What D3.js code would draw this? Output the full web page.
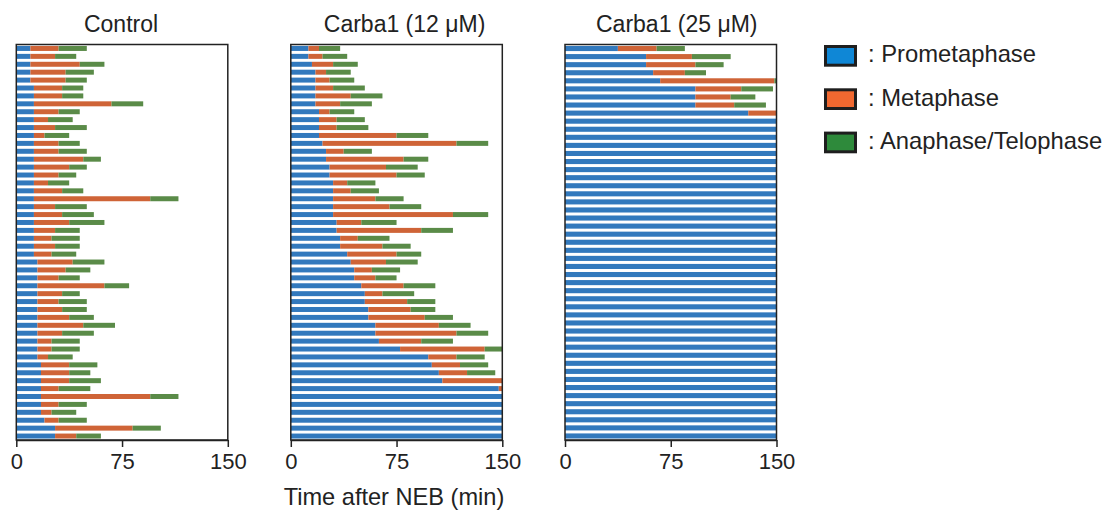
<!DOCTYPE html>
<html><head><meta charset="utf-8">
<script src="https://cdn.jsdelivr.net/npm/d3@7"></script>
<style>html,body{margin:0;padding:0;background:#fff;}svg{display:block;font-family:"Liberation Sans",Arial,sans-serif;}</style>
</head><body><svg id="c" width="1108" height="513"></svg>
<script>
// ---- data (minutes) ----
const panelTitles = ["Control", "Carba1 (12 μM)", "Carba1 (25 μM)"];
const phases = ["Prometaphase", "Metaphase", "Anaphase/Telophase"];
const xTicks = [0, 75, 150];
const xLabel = "Time after NEB (min)";

// Control: duration of each phase per cell
const controlPro = [10,10,10,10,10,12.5,12.5,12.5,12.5,12.5,12.5,12.5,12.5,12.5,12.5,12.5,12.5,12.5,12.5,12.5,12.5,12.5,12.5,12.5,12.5,12.5,12.5,15,15,15,15,15,15,15,15,15,15,15,15,15,17.5,17.5,17.5,17.5,17.5,17.5,17.5,20,27.5,27.5];
const controlMeta = [20,17.5,35,25,25,20,20,55,17.5,10,15,7.5,17.5,17.5,35,25,17.5,10,20,82.5,15,20,25,15,12.5,15,12.5,25,20,15,47.5,17.5,15,17.5,22.5,32.5,17.5,10,10,7.5,20,20,20,12.5,77.5,12.5,7.5,10,55,15];
const controlAna = [20,15,17.5,20,15,15,15,22.5,15,17.5,22.5,17.5,15,20,12.5,12.5,12.5,15,15,20,22.5,22.5,25,17.5,20,17.5,17.5,22.5,17.5,15,17.5,12.5,20,17.5,17.5,22.5,22.5,20,20,17.5,20,15,22.5,22.5,20,20,17.5,20,20,17.5];

// Carba1 12 µM
const c12Pro = [12.5,12.5,15,17.5,17.5,17.5,17.5,17.5,20,20,20,20,22.5,25,25,27.5,27.5,30,30,30,30,30,32.5,32.5,35,35,40,42.5,45,45,50,52.5,52.5,55,55,60,60,62.5,77.5,97.5,100,105,107.5,147.5,150,150,150,150,150,150];
const c12Meta = [7.5,10,15,7.5,10,12.5,25,17.5,7.5,12.5,12.5,55,95,12.5,55,40,47.5,10,12.5,30,40,85,17.5,60,12.5,30,35,25,12.5,15,30,12.5,30,30,40,45,57.5,30,60,20,20,20,42.5,2.5,0,0,0,0,0,0];
const c12Ana = [15,17.5,17.5,17.5,17.5,22.5,22.5,22.5,17.5,20,22.5,22.5,22.5,20,17.5,22.5,20,20,20,20,22.5,25,25,22.5,22.5,20,17.5,22.5,20,15,22.5,22.5,20,17.5,20,22.5,22.5,22.5,12.5,20,20,20,0,0,0,0,0,0,0,0];

// Carba1 25 µM
const c25Pro = [37.5,57.5,57.5,62.5,67.5,92.5,92.5,92.5,130,150,150,150,150,150,150,150,150,150,150,150,150,150,150,150,150,150,150,150,150,150,150,150,150,150,150,150,150,150,150,150,150,150,150,150,150,150,150,150,150];
const c25Meta = [27.5,32.5,35,22.5,81,32.5,25,27.5,20,0,0,0,0,0,0,0,0,0,0,0,0,0,0,0,0,0,0,0,0,0,0,0,0,0,0,0,0,0,0,0,0,0,0,0,0,0,0,0,0];
const c25Ana = [20,27.5,20,15,1.5,22.5,17.5,22.5,0,0,0,0,0,0,0,0,0,0,0,0,0,0,0,0,0,0,0,0,0,0,0,0,0,0,0,0,0,0,0,0,0,0,0,0,0,0,0,0,0];

// ---- drawing ----
const barColors = ["#3279bd", "#cf6437", "#5a8b48"];
const legendColors = ["#0f87d6", "#f06830", "#2e8a3b"];
const ink = "#222";

const svg = d3.select("#c");
const panels = [
  {pro: controlPro, meta: controlMeta, ana: controlAna, left: 16.3, titleDx: -1},
  {pro: c12Pro, meta: c12Meta, ana: c12Ana, left: 290.8, titleDx: 8},
  {pro: c25Pro, meta: c25Meta, ana: c25Ana, left: 565, titleDx: 6}
];
const W = 211.5, plotTop = 44.5, plotBottom = 440;

panels.forEach((p, i) => {
  const x = d3.scaleLinear().domain([0, 150]).range([p.left, p.left + W]);
  const n = p.pro.length;
  const y = d3.scaleBand().domain(d3.range(n)).range([plotTop, plotBottom]).paddingInner(0.37).paddingOuter(0.185);
  const rows = d3.range(n).map(k => {
    const a = p.pro[k], b = a + p.meta[k], c = b + p.ana[k];
    return [[0, a], [a, b], [b, c]];
  });
  const g = svg.append("g");
  rows.forEach((segs, k) => {
    g.selectAll(null).data(segs.map((s, j) => ({s, j})).filter(d => d.s[1] > d.s[0]))
      .enter().append("rect")
      .attr("x", d => x(d.s[0]))
      .attr("width", d => x(d.s[1]) - x(d.s[0]))
      .attr("y", y(k))
      .attr("height", y.bandwidth())
      .attr("fill", d => barColors[d.j]);
  });
  // frame
  svg.append("rect").attr("x", x(0)).attr("y", plotTop).attr("width", x(150) - x(0)).attr("height", plotBottom - plotTop)
    .attr("fill", "none").attr("stroke", ink).attr("stroke-width", 1.5);
  // axis
  const ax = svg.append("g").attr("transform", `translate(0,${plotBottom})`)
    .call(d3.axisBottom(x).tickValues(xTicks).tickSize(7).tickPadding(6).tickSizeOuter(0));
  ax.select(".domain").attr("stroke", ink).attr("stroke-width", 1.5);
  ax.selectAll(".tick line").attr("stroke", ink).attr("stroke-width", 1.5);
  ax.selectAll(".tick text").attr("fill", ink).attr("font-size", 22).attr("font-family", "Liberation Sans, Arial, sans-serif");
  // title
  svg.append("text").attr("x", (x(0) + x(150)) / 2 + p.titleDx).attr("y", 32)
    .attr("text-anchor", "middle").attr("font-size", 23).attr("fill", ink).text(panelTitles[i]);
});

svg.append("text").attr("x", 394).attr("y", 505).attr("text-anchor", "middle")
  .attr("font-size", 23.6).attr("fill", ink).text(xLabel);

// legend
const lg = svg.append("g");
phases.forEach((ph, i) => {
  const yy = 46.5 + i * 43.3;
  lg.append("rect").attr("x", 825.5).attr("y", yy).attr("width", 30).attr("height", 18.7)
    .attr("fill", legendColors[i]).attr("stroke", "#1e1e1e").attr("stroke-width", 3);
  lg.append("text").attr("x", 868).attr("y", yy + 15.8).attr("font-size", 23.8).attr("fill", ink).text(": " + ph);
});
</script></body></html>
